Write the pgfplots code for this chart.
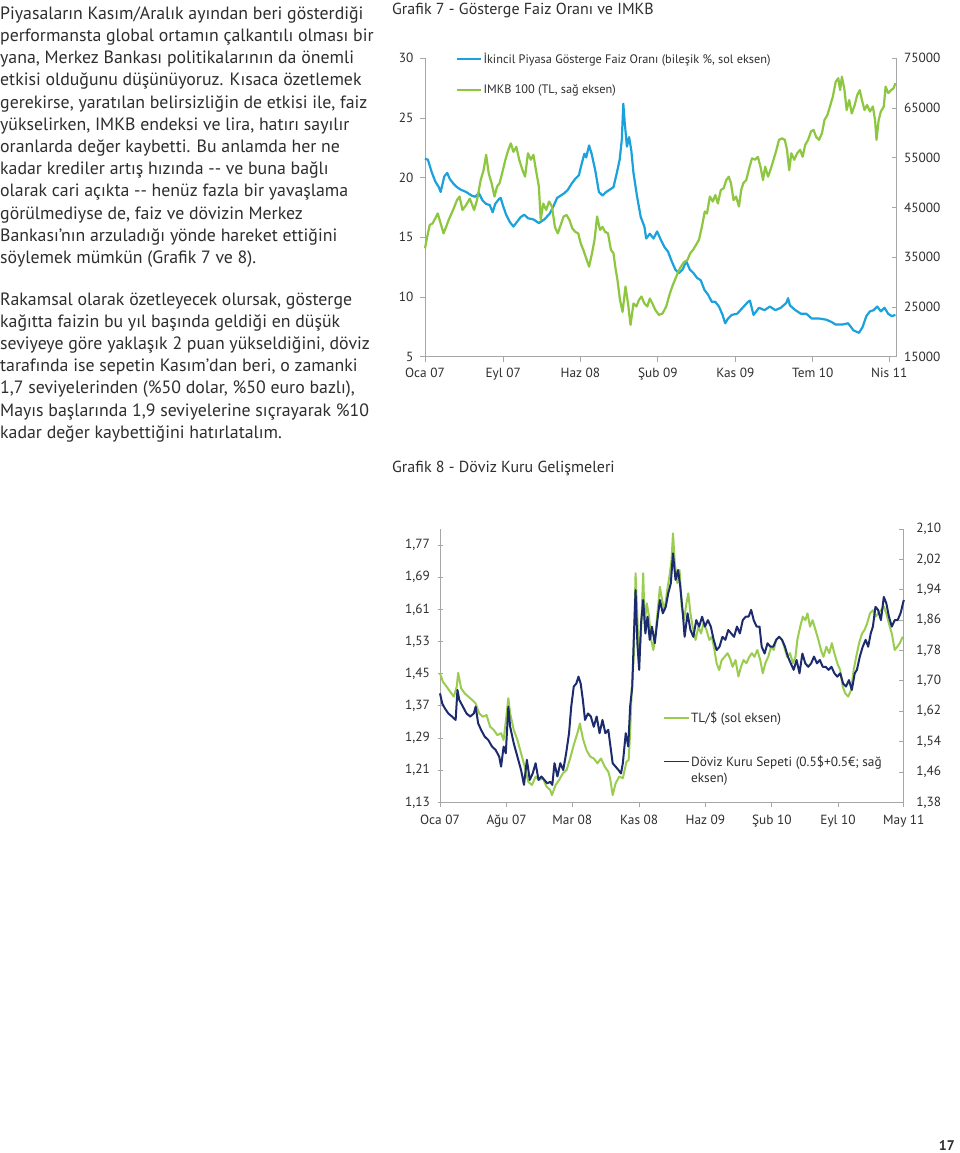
\documentclass[border=0pt]{standalone}
\usepackage{fontspec}
\setmainfont{PT Sans}
\usepackage{pgfplots}
\pgfplotsset{compat=1.18}
\definecolor{cblue}{HTML}{1BA1DC}
\definecolor{cgreen}{HTML}{8DC63F}
\definecolor{cgreenb}{HTML}{9ACD4F}
\definecolor{cnavy}{HTML}{1C2B6E}
\definecolor{axgray}{HTML}{A6A6A6}
\definecolor{txt}{HTML}{2E2E2E}

\pgfplotstableread{
x y
97 21.6
105 21.5
115 20.5
125 19.7
135 19.2
140 18.8
150 20.1
158 20.4
165 19.9
175 19.5
185 19.2
195 19.0
210 18.8
225 18.5
235 18.4
245 18.7
255 18.1
265 17.8
275 17.7
283 17.1
290 17.8
300 18.2
305 18.3
312 17.6
320 16.9
330 16.3
340 15.9
350 16.3
360 16.7
370 16.9
380 16.6
395 16.5
410 16.2
425 16.5
440 17.0
450 17.6
460 18.3
470 18.5
480 18.7
490 19.0
500 19.5
510 19.9
520 20.2
528 21.2
535 22.0
540 21.7
548 22.7
555 22.0
565 20.6
575 18.8
585 18.5
595 18.8
605 19.0
615 19.2
625 20.5
632 21.5
638 23.2
642 26.2
646 24.6
652 22.6
658 23.4
664 22.3
670 20.4
680 18.4
690 16.7
700 15.9
705 14.9
715 15.3
725 14.9
735 15.5
745 14.8
755 14.2
765 13.8
775 13.0
785 12.3
795 12.0
805 12.3
815 13.0
825 12.3
835 12.0
845 11.6
855 11.4
865 10.6
875 10.2
885 9.6
895 9.6
905 9.2
915 8.5
922 7.8
930 8.2
940 8.5
955 8.6
970 9.1
985 9.6
990 9.7
1000 8.5
1015 9.1
1030 8.9
1045 9.2
1060 8.9
1075 9.1
1090 9.5
1095 9.9
1100 9.3
1115 8.9
1130 8.6
1145 8.6
1160 8.2
1180 8.2
1200 8.1
1215 7.9
1225 7.7
1245 7.7
1260 7.8
1275 7.2
1290 7.0
1300 7.5
1310 8.4
1320 8.8
1330 8.9
1340 9.2
1350 8.8
1360 9.1
1370 8.6
1380 8.4
1390 8.5
}\faiz

\pgfplotstableread{
x y
97 36800
103 39100
110 41500
118 41800
125 42800
132 43800
140 41800
148 39800
155 41100
162 42500
170 43800
178 45200
185 46500
192 47200
200 44500
210 45500
220 46800
232 44500
240 46500
250 50500
258 52500
265 55600
272 51900
280 49900
288 47200
295 49200
302 49900
310 52200
318 54600
326 56600
333 57900
340 56200
348 57200
356 54600
365 52500
372 51200
380 55900
388 54600
395 55600
402 52500
410 49200
415 42500
422 45800
430 44500
438 46200
446 45200
454 41100
462 39800
470 41500
478 43200
486 43500
494 42500
502 40800
510 40100
518 39800
525 37800
532 36500
540 34800
548 33100
556 35800
563 38500
570 43200
578 40500
585 41100
592 40100
600 39800
608 36500
615 35800
620 33100
626 30400
633 26400
640 24000
648 29100
655 25700
662 21400
670 25700
678 25100
685 26400
692 27100
700 25700
708 25100
715 26700
722 25700
730 24400
740 23400
750 23700
760 25100
770 27700
778 29400
786 30800
795 32400
803 33400
810 34100
818 34400
826 35800
834 36500
842 37500
850 38500
858 41100
866 44200
872 43800
880 47200
888 46200
895 47500
902 45800
910 48500
918 48900
925 50500
932 51200
938 49900
945 46500
952 47200
960 45200
966 48500
972 49900
980 50500
988 52900
996 54900
1004 54600
1012 55200
1020 52900
1026 50500
1032 53200
1040 51200
1048 52900
1055 54600
1063 56600
1070 58600
1078 58900
1086 58600
1092 56600
1098 52500
1104 55900
1112 54600
1120 55900
1128 56600
1135 55200
1142 57600
1150 58600
1158 60300
1165 60600
1172 59200
1180 58600
1188 59900
1195 62600
1203 63600
1210 65300
1218 67300
1226 70300
1233 71000
1238 68600
1243 71300
1250 68600
1256 64600
1263 66600
1270 63900
1278 65600
1285 67600
1292 68600
1298 66600
1305 64600
1312 65600
1320 64300
1328 65300
1334 62600
1338 58600
1344 62600
1350 64300
1358 65300
1363 69300
1370 68000
1378 68600
1385 69000
1390 70000
}\imkb

\pgfplotstableread{
x y
137 1.451
145 1.430
155 1.418
165 1.405
175 1.393
183 1.418
187 1.452
195 1.414
205 1.401
215 1.393
225 1.385
235 1.376
245 1.351
255 1.343
265 1.347
275 1.318
285 1.310
295 1.297
305 1.302
312 1.285
318 1.331
325 1.389
330 1.351
340 1.310
350 1.285
360 1.252
370 1.219
380 1.181
390 1.173
400 1.194
410 1.186
420 1.190
430 1.169
440 1.161
445 1.148
455 1.173
465 1.186
475 1.202
485 1.210
495 1.239
505 1.273
515 1.302
522 1.326
530 1.289
540 1.260
550 1.244
560 1.239
570 1.227
580 1.239
590 1.219
600 1.206
605 1.190
612 1.148
620 1.177
630 1.194
640 1.190
650 1.231
656 1.235
660 1.302
665 1.426
670 1.492
675 1.700
680 1.592
684 1.476
690 1.550
696 1.700
700 1.575
706 1.625
712 1.592
718 1.534
724 1.509
730 1.550
736 1.608
742 1.666
748 1.633
755 1.608
762 1.658
768 1.691
774 1.733
778 1.799
783 1.724
790 1.675
796 1.708
802 1.617
808 1.583
815 1.625
820 1.650
826 1.600
832 1.567
840 1.534
848 1.567
855 1.550
862 1.575
870 1.559
878 1.534
885 1.542
892 1.509
898 1.476
905 1.459
912 1.484
920 1.492
928 1.501
935 1.488
942 1.467
950 1.484
958 1.443
965 1.467
972 1.484
980 1.476
988 1.492
995 1.501
1002 1.492
1010 1.509
1018 1.484
1025 1.451
1032 1.476
1040 1.492
1048 1.517
1055 1.509
1062 1.534
1070 1.542
1078 1.534
1085 1.513
1092 1.492
1100 1.501
1108 1.476
1115 1.492
1120 1.534
1128 1.567
1135 1.592
1142 1.583
1148 1.600
1155 1.567
1162 1.583
1170 1.559
1178 1.534
1185 1.509
1192 1.492
1200 1.517
1208 1.501
1215 1.526
1222 1.501
1230 1.476
1238 1.459
1245 1.418
1252 1.401
1260 1.393
1268 1.410
1275 1.459
1282 1.492
1290 1.526
1298 1.550
1305 1.559
1312 1.575
1320 1.600
1328 1.608
1335 1.592
1342 1.600
1350 1.608
1358 1.617
1365 1.600
1372 1.575
1380 1.550
1388 1.509
1395 1.517
1402 1.526
1410 1.542
}\tlusd

\pgfplotstableread{
x y
137 1.667
143 1.641
150 1.628
160 1.614
170 1.606
180 1.597
185 1.676
190 1.650
200 1.632
210 1.614
220 1.606
230 1.614
235 1.632
242 1.588
250 1.571
260 1.553
270 1.544
280 1.527
290 1.518
300 1.500
305 1.474
312 1.527
318 1.509
325 1.632
330 1.579
340 1.535
350 1.500
360 1.465
368 1.426
376 1.492
384 1.439
392 1.456
400 1.483
408 1.439
416 1.448
424 1.439
432 1.430
440 1.434
446 1.426
452 1.483
460 1.448
468 1.483
476 1.465
484 1.509
492 1.562
498 1.632
505 1.685
512 1.693
518 1.711
524 1.693
530 1.650
536 1.597
544 1.614
552 1.606
560 1.579
568 1.606
576 1.562
584 1.597
592 1.562
600 1.571
606 1.527
612 1.483
620 1.474
628 1.465
635 1.456
640 1.483
648 1.562
655 1.527
660 1.632
666 1.685
670 1.808
675 1.939
680 1.799
685 1.729
690 1.851
696 1.913
702 1.825
708 1.869
714 1.808
720 1.843
728 1.799
735 1.860
742 1.913
750 1.878
758 1.895
765 1.931
772 1.957
778 2.036
785 1.966
792 1.992
798 1.948
805 1.878
810 1.816
818 1.878
826 1.834
834 1.816
842 1.860
850 1.843
858 1.869
866 1.843
874 1.860
882 1.843
890 1.808
898 1.781
906 1.790
914 1.816
922 1.808
930 1.834
938 1.825
946 1.816
954 1.843
962 1.825
970 1.860
978 1.869
986 1.869
993 1.887
1000 1.860
1008 1.843
1016 1.843
1022 1.790
1030 1.772
1038 1.799
1046 1.790
1054 1.790
1062 1.808
1070 1.816
1078 1.808
1086 1.790
1094 1.764
1102 1.746
1110 1.729
1118 1.755
1126 1.720
1134 1.772
1142 1.746
1150 1.737
1158 1.746
1166 1.764
1174 1.746
1182 1.755
1190 1.737
1198 1.737
1206 1.729
1214 1.737
1222 1.720
1230 1.711
1238 1.720
1246 1.693
1254 1.685
1262 1.702
1270 1.676
1278 1.720
1284 1.729
1292 1.764
1300 1.790
1308 1.808
1315 1.790
1322 1.825
1328 1.843
1335 1.895
1342 1.887
1350 1.860
1358 1.921
1365 1.904
1372 1.869
1380 1.843
1388 1.860
1396 1.860
1404 1.878
1413 1.913
}\sepet

\pgfplotsset{
  pagechart/.style={
    scale only axis,
    scaled x ticks=false, scaled y ticks=false,
    axis line style={axgray, line width=0.8pt},
    tick style={axgray, line width=0.8pt},
    major tick length=5pt,
    ticklabel style={font=\fontsize{13.3}{15}\selectfont, text=txt},
    clip=false,
  },
}

\begin{document}
\begin{tikzpicture}
\path[use as bounding box, fill=white] (0pt,0pt) rectangle (960pt,-1153pt);

% ---------- body text ----------
\begin{scope}[every node/.style={anchor=base west, inner sep=0pt, text=txt, font=\fontsize{17.8}{22}\selectfont}]
\node at (0pt,-19.3pt) {Piyasaların Kasım/Aralık ayından beri gösterdiği};
\node at (0pt,-41.5pt) {performansta global ortamın çalkantılı olması bir};
\node at (0pt,-63.7pt) {yana, Merkez Bankası politikalarının da önemli};
\node at (0pt,-85.9pt) {etkisi olduğunu düşünüyoruz. Kısaca özetlemek};
\node at (0pt,-108.1pt) {gerekirse, yaratılan belirsizliğin de etkisi ile, faiz};
\node at (0pt,-130.3pt) {yükselirken, IMKB endeksi ve lira, hatırı sayılır};
\node at (0pt,-152.5pt) {oranlarda değer kaybetti. Bu anlamda her ne};
\node at (0pt,-174.7pt) {kadar krediler artış hızında -{}- ve buna bağlı};
\node at (0pt,-196.9pt) {olarak cari açıkta -{}- henüz fazla bir yavaşlama};
\node at (0pt,-219.1pt) {görülmediyse de, faiz ve dövizin Merkez};
\node at (0pt,-241.3pt) {Bankası’nın arzuladığı yönde hareket ettiğini};
\node at (0pt,-263.5pt) {söylemek mümkün (Grafik 7 ve 8).};
\node at (0pt,-305pt) {Rakamsal olarak özetleyecek olursak, gösterge};
\node at (0pt,-327.2pt) {kağıtta faizin bu yıl başında geldiği en düşük};
\node at (0pt,-349.4pt) {seviyeye göre yaklaşık 2 puan yükseldiğini, döviz};
\node at (0pt,-371.6pt) {tarafında ise sepetin Kasım’dan beri, o zamanki};
\node at (0pt,-393.8pt) {1,7 seviyelerinden (\%50 dolar, \%50 euro bazlı),};
\node at (0pt,-416pt) {Mayıs başlarında 1,9 seviyelerine sıçrayarak \%10};
\node at (0pt,-438.2pt) {kadar değer kaybettiğini hatırlatalım.};
\node[font=\fontsize{16}{18}\selectfont] at (392pt,-15pt) {Grafik 7 - Gösterge Faiz Oranı ve IMKB};
\node[font=\fontsize{16}{18}\selectfont] at (392pt,-472pt) {Grafik 8 - Döviz Kuru Gelişmeleri};
\node[font=\fontsize{14}{16}\bfseries, anchor=base east, inner sep=1pt] at (956pt,-1150pt) {17};
\end{scope}

% ---------- Grafik 7 ----------
\begin{axis}[pagechart,
  at={(425pt,-356.7pt)}, anchor=south west,
  width=471.5pt, height=298.4pt,
  xmin=97, xmax=1393, ymin=5, ymax=30,
  axis x line*=bottom, axis y line*=left,
  tick align=outside,
  xtick={97,312,524,737,950,1163,1373},
  xticklabels={Oca 07, Eyl 07, Haz 08, Şub 09, Kas 09, Tem 10, Nis 11},
  xticklabel style={yshift=-3pt},
  ytick={5,10,15,20,25,30},
  yticklabels={5,10,15,20,25,30},
  yticklabel style={xshift=-3pt},
  legend cell align=left,
  legend style={at={(0.066,1.022)}, anchor=north west, draw=none, fill=none,
    font=\fontsize{12.3}{14}\selectfont, text=txt, row sep=18pt, inner sep=0pt,
    nodes={inner sep=1pt}},
  legend image code/.code={\draw[#1, line width=2.2pt] (0pt,0pt) -- (24pt,0pt);},
]
\addplot[cblue, line width=2.2pt, line join=round] table[x=x,y=y] {\faiz};
\addlegendentry{İkincil Piyasa Gösterge Faiz Oranı (bileşik \%, sol eksen)}
\addlegendimage{cgreen}
\addlegendentry{IMKB 100 (TL, sağ eksen)}
\end{axis}
\begin{axis}[pagechart,
  at={(425pt,-356.7pt)}, anchor=south west,
  width=471.5pt, height=298.4pt,
  xmin=97, xmax=1393, ymin=15000, ymax=75000,
  axis x line=none, axis y line*=right,
  tick align=inside,
  ytick={15000,25000,35000,45000,55000,65000,75000},
  yticklabels={15000,25000,35000,45000,55000,65000,75000},
  yticklabel style={xshift=4pt},
]
\addplot[cgreen, line width=2.2pt, line join=round] table[x=x,y=y] {\imkb};
\end{axis}

% ---------- Grafik 8 ----------
\begin{axis}[pagechart,
  at={(440pt,-802.3pt)}, anchor=south west,
  width=463.8pt, height=273.3pt,
  xmin=137, xmax=1413, ymin=1.13, ymax=1.81,
  axis x line*=bottom, axis y line*=left,
  tick align=outside,
  ytick align=center,
  xtick={137,320,501,685,867,1050,1232,1413},
  xticklabels={Oca 07, Ağu 07, Mar 08, Kas 08, Haz 09, Şub 10, Eyl 10, May 11},
  xticklabel style={yshift=-4pt},
  ytick={1.13,1.21,1.29,1.37,1.45,1.53,1.61,1.69,1.77},
  yticklabels={{1,13},{1,21},{1,29},{1,37},{1,45},{1,53},{1,61},{1,69},{1,77}},
  yticklabel style={xshift=-4pt},
  legend cell align=left,
  legend style={at={(0.481,0.334)}, anchor=north west, draw=none, fill=none,
    font=\fontsize{13.3}{16}\selectfont, text=txt, row sep=29pt, inner sep=0pt,
    nodes={inner sep=1pt, align=left}},
  legend image code/.code={\draw[#1, line width=1.8pt] (0pt,0pt) -- (25pt,0pt);},
]
\addplot[cgreenb, line width=2pt, line join=round] table[x=x,y=y] {\tlusd};
\addlegendentry{TL/\$ (sol eksen)}
\addlegendimage{legend image code/.code={\draw[cnavy, line width=1.8pt] (0pt,8pt) -- (25pt,8pt);}}
\addlegendentry{Döviz Kuru Sepeti (0.5\$+0.5€; sağ\\eksen)}
\end{axis}
\begin{axis}[pagechart,
  at={(440pt,-802.3pt)}, anchor=south west,
  width=463.8pt, height=273.3pt,
  xmin=137, xmax=1413, ymin=1.38, ymax=2.10,
  axis x line=none, axis y line*=right,
  tick align=inside,
  ytick={1.38,1.46,1.54,1.62,1.70,1.78,1.86,1.94,2.02,2.10},
  yticklabels={{1,38},{1,46},{1,54},{1,62},{1,70},{1,78},{1,86},{1,94},{2,02},{2,10}},
  yticklabel style={xshift=9pt},
]
\addplot[cnavy, line width=2pt, line join=round] table[x=x,y=y] {\sepet};
\end{axis}
\end{tikzpicture}
\end{document}
